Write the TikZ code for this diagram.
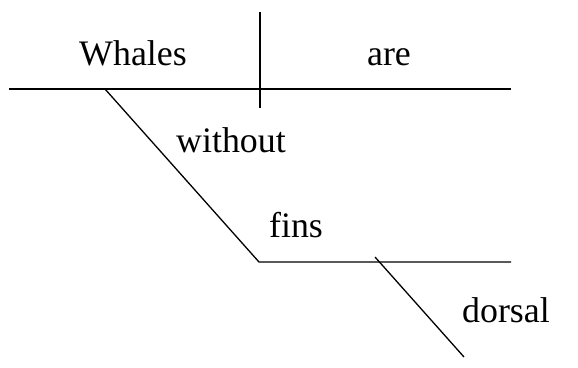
\documentclass[tikz,border=0pt]{standalone}
\usepackage{fontspec}
\setmainfont{Liberation Serif}
\begin{document}
\begin{tikzpicture}[x=1bp,y=-1bp,
  word/.style={anchor=base,inner sep=0pt,font=\fontsize{36}{40}\selectfont},
  rule/.style={line width=1.3bp,black}]
\useasboundingbox (0,0) rectangle (578,367);
% coordinates
\coordinate (bl) at (9,89);
\coordinate (br) at (511,89);
\coordinate (vt) at (260,12);
\coordinate (vb) at (260,108);
\coordinate (d1a) at (105,89);
\coordinate (d1b) at (259,262);
\coordinate (l2b) at (511,262);
\coordinate (d2a) at (375,257);
\coordinate (d2b) at (464,357);
% words
\node[word] (whales) at (133,65) {Whales};
\node[word] (are) at (389,65) {are};
\node[word] (without) at (231,152) {without};
\node[word] (fins) at (296,237) {fins};
\node[word] (dorsal) at (506,322) {dorsal};
% lines
\draw[rule] (bl) -- (br);
\draw[rule] (vt) -- (vb);
\draw[rule] (d1a) -- (d1b) -- (l2b);
\draw[rule] (d2a) -- (d2b);
\end{tikzpicture}
\end{document}
